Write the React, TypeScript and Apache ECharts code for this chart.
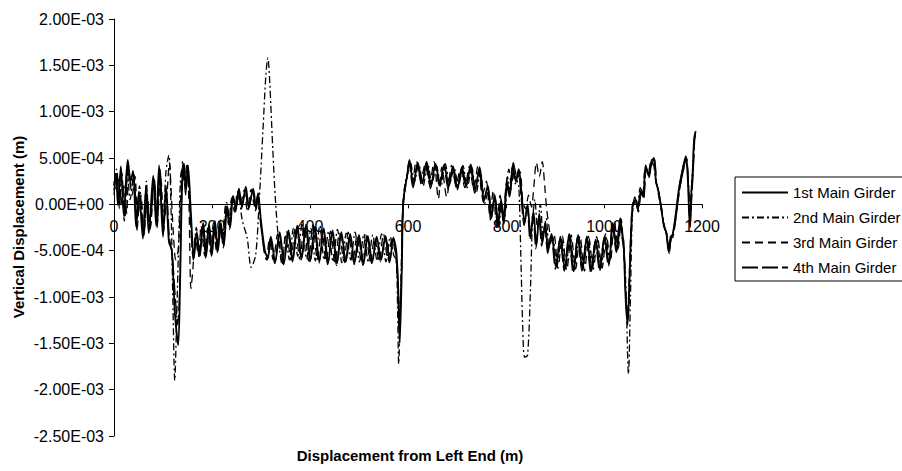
import React, { useEffect, useRef } from "react";
import * as echarts from "echarts";

// Values are in units of 1e-4 m; x is distance from left end in m.
const seriesNames = ["1st Main Girder", "2nd Main Girder", "3rd Main Girder", "4th Main Girder"];
const xTicks = [0, 200, 400, 600, 800, 1000, 1200];
const yMin = -25; // -2.50E-03 m
const yMax = 20; // 2.00E-03 m
const yTickStep = 5; // 5.00E-04 m

const girder1: number[][] = [
  [0,2.0],[4,3.1],[8,-0.1],[14,4.1],[20,-1.2],[28,4.8],[34,2.5],[39,3.6],[45,-2.4],[51,1.4],[59,-3.7],[65,1.7],[71,-3.1],[80,3.1],[86,-2.3],[92,4.2],[100,-3.5],[106,2.0],[112,-4.0],[118,-5.0],[124,-11.5],[131,-15.2],[135,-8.0],[139,2.0],[143,4.4],[147,1.5],[151,4.2],[157,-1.0],[163,-5.8],[169,-3.0],[175,-5.6],[182,-2.0],[188,-5.6],[194,-2.2],[200,-5.4],[206,-1.8],[212,-5.0],[218,-2.0],[224,-4.5],[231,-0.2],[237,-2.5],[243,0.9],[249,-0.4],[255,1.7],[261,-0.3],[269,1.9],[275,-0.4],[284,1.7],[290,-0.5],[294,1.2],[300,-1.8],[308,-5.0],[314,-5.8],[320,-3.5],[329,-6.2],[338,-3.0],[347,-6.3],[356,-2.8],[365,-6.0],[374,-2.3],[383,-5.8],[392,-2.2],[401,-6.0],[410,-2.4],[419,-6.2],[428,-2.6],[437,-6.3],[446,-2.8],[455,-6.4],[464,-3.0],[473,-6.2],[482,-3.2],[491,-6.3],[500,-3.3],[509,-6.4],[518,-3.4],[527,-6.2],[536,-3.5],[545,-6.0],[554,-3.4],[563,-6.1],[570,-3.6],[576,-5.0],[580,-9.0],[583,-15.0],[587,-8.0],[590,0.0],[594,1.8],[598,3.0],[603,4.8],[611,2.0],[620,4.5],[629,2.3],[638,4.6],[647,2.0],[656,4.4],[665,2.2],[674,4.3],[683,1.9],[692,4.1],[701,1.7],[710,4.0],[719,2.0],[728,4.3],[737,1.5],[746,4.0],[755,0.5],[763,2.0],[770,-1.5],[777,1.0],[784,-2.2],[790,0.5],[796,-2.0],[802,2.5],[808,1.0],[814,4.3],[820,2.5],[826,3.8],[832,1.0],[838,-2.0],[844,0.0],[850,-3.5],[856,-0.8],[862,-4.5],[868,-1.0],[874,-4.2],[880,-2.0],[886,-5.0],[893,-3.2],[902,-6.8],[911,-3.5],[920,-7.0],[929,-3.2],[938,-7.2],[947,-3.3],[956,-7.0],[965,-3.5],[974,-7.2],[983,-3.8],[992,-7.0],[1001,-3.5],[1010,-6.5],[1018,-2.0],[1026,-5.0],[1033,-1.5],[1038,-3.5],[1040,-4.0],[1044,-10.0],[1048,-13.0],[1052,-8.0],[1056,-2.0],[1059,0.0],[1065,0.5],[1069,-0.6],[1075,1.4],[1080,0.8],[1085,4.2],[1091,3.1],[1096,4.5],[1102,5.0],[1106,2.5],[1110,1.7],[1116,-0.1],[1122,-2.3],[1127,-3.0],[1132,-5.1],[1136,-3.5],[1140,-3.3],[1146,-1.2],[1153,1.7],[1161,3.9],[1167,5.2],[1171,2.8],[1175,-2.3],[1178,1.0],[1181,3.6],[1184,7.1],[1187,7.9]
];

const girder2: number[][] = [
  [0,1.0],[5,3.8],[10,0.5],[15,3.0],[21,-1.8],[27,4.0],[33,0.5],[40,3.0],[46,-2.0],[52,2.0],[60,-3.0],[66,2.5],[72,-2.5],[81,2.8],[87,-1.5],[93,3.5],[100,-2.5],[106,3.5],[112,5.3],[116,0.5],[120,-10.0],[124,-19.0],[128,-12.0],[132,-4.0],[136,3.0],[141,4.2],[146,2.0],[150,4.0],[156,-1.5],[162,-5.5],[168,-2.5],[174,-5.2],[181,-2.3],[187,-5.3],[193,-2.5],[199,-5.0],[205,-2.0],[211,-4.8],[217,-1.7],[223,-4.2],[230,0.2],[236,-2.0],[242,1.0],[248,-0.8],[254,1.5],[261,-1.5],[272,-3.7],[280,-6.8],[289,-5.5],[296,0.0],[304,8.0],[310,14.0],[314,15.8],[318,13.0],[324,6.0],[330,0.0],[337,-4.5],[343,-6.5],[350,-3.3],[358,-6.0],[366,-2.6],[375,-5.6],[384,-2.0],[393,-5.9],[402,-2.6],[411,-6.1],[420,-2.3],[429,-6.0],[438,-2.9],[447,-6.2],[456,-2.7],[465,-6.3],[474,-3.1],[483,-6.0],[492,-3.0],[501,-6.2],[510,-3.2],[519,-6.3],[528,-3.3],[537,-6.1],[546,-3.2],[555,-6.2],[564,-3.5],[571,-5.5],[576,-6.0],[579,-12.0],[581,-17.2],[584,-12.0],[588,-3.0],[591,1.0],[595,2.5],[600,3.5],[605,4.5],[613,2.4],[622,4.3],[631,2.0],[640,4.4],[649,2.3],[658,4.2],[667,1.9],[676,4.4],[685,2.2],[694,3.9],[703,2.0],[712,4.2],[721,1.8],[730,4.0],[739,1.2],[748,3.6],[756,0.0],[764,1.5],[771,-1.0],[778,0.5],[785,-2.5],[791,0.0],[797,-1.5],[803,3.0],[809,1.5],[815,4.5],[821,2.8],[826,2.0],[830,-5.0],[834,-13.0],[838,-16.5],[844,-16.3],[850,-9.0],[854,-2.0],[859,0.5],[864,-2.5],[870,0.0],[876,-3.5],[882,-1.5],[888,-4.5],[895,-3.5],[904,-6.6],[913,-3.7],[922,-6.8],[931,-3.4],[940,-7.0],[949,-3.6],[958,-6.8],[967,-3.3],[976,-7.0],[985,-3.5],[994,-6.8],[1003,-3.2],[1011,-6.0],[1019,-2.4],[1027,-4.6],[1034,-2.0],[1039,-4.0],[1044,-8.0],[1050,-18.3],[1054,-10.0],[1058,-1.0],[1063,0.8],[1068,-0.3],[1074,1.8],[1079,1.0],[1084,3.8],[1090,3.5],[1097,4.8],[1101,4.4],[1105,2.8],[1110,1.4],[1116,-0.4],[1122,-2.0],[1128,-3.4],[1132,-4.8],[1137,-3.8],[1141,-3.0],[1147,-1.0],[1154,2.0],[1162,4.2],[1167,4.9],[1171,3.0],[1175,-1.5],[1178,1.5],[1181,3.8],[1184,6.8],[1187,7.6]
];

const girder3: number[][] = [
  [0,2.5],[4,1.5],[9,3.0],[14,0.0],[20,2.0],[26,-1.0],[30,3.8],[37,1.0],[43,3.0],[48,-1.5],[55,1.0],[61,-3.2],[68,1.0],[74,-2.6],[82,2.5],[88,-2.0],[95,3.2],[102,-2.0],[108,1.0],[113,4.5],[117,1.0],[121,-3.0],[126,-6.0],[131,-5.0],[136,0.5],[140,4.6],[144,2.0],[149,4.5],[153,0.0],[157,-9.1],[161,-7.0],[166,-3.5],[172,-5.4],[178,-2.4],[185,-5.5],[191,-2.6],[197,-5.2],[203,-2.0],[209,-5.0],[215,-2.3],[221,-4.0],[228,0.0],[234,-2.2],[240,0.6],[246,-0.8],[252,1.4],[258,0.0],[265,1.5],[272,-0.6],[280,1.6],[287,-0.2],[293,0.8],[298,-1.2],[305,-4.5],[311,-6.0],[317,-3.8],[325,-6.0],[334,-3.2],[343,-6.2],[352,-2.9],[361,-6.0],[370,-2.5],[379,-5.9],[388,-2.4],[397,-6.1],[406,-2.2],[415,-6.0],[424,-2.7],[433,-6.2],[442,-2.9],[451,-6.3],[460,-3.1],[469,-6.1],[478,-3.0],[487,-6.2],[496,-3.4],[505,-6.3],[514,-3.3],[523,-6.1],[532,-3.6],[541,-6.2],[550,-3.2],[559,-6.0],[567,-3.8],[574,-5.2],[579,-8.0],[583,-12.0],[587,-7.0],[590,-0.5],[594,1.5],[599,3.2],[604,4.2],[609,2.5],[617,4.7],[626,2.6],[635,4.3],[644,2.2],[653,4.6],[662,0.6],[669,4.0],[679,0.8],[689,4.2],[698,2.1],[707,3.8],[716,1.8],[725,4.1],[734,1.7],[743,4.2],[752,1.0],[760,2.5],[767,-1.2],[774,1.5],[781,-2.6],[788,1.0],[794,-1.8],[800,2.0],[806,3.8],[811,2.0],[817,4.0],[823,2.8],[829,3.5],[834,0.5],[840,-0.5],[846,1.0],[852,-0.3],[857,2.0],[862,4.5],[868,3.0],[874,4.6],[879,2.0],[883,-0.5],[888,-2.5],[892,-4.0],[898,-3.3],[906,-6.9],[915,-3.4],[924,-7.1],[933,-3.3],[942,-7.0],[951,-3.4],[960,-7.2],[969,-3.6],[978,-7.0],[987,-3.7],[996,-6.9],[1005,-3.4],[1013,-6.2],[1021,-1.8],[1029,-4.8],[1035,-1.6],[1040,-5.0],[1044,-9.0],[1048,-12.0],[1052,-7.0],[1056,-1.5],[1060,0.3],[1066,0.0],[1070,-0.8],[1076,1.6],[1081,1.0],[1086,4.0],[1092,3.3],[1097,4.2],[1103,4.8],[1107,2.2],[1111,1.5],[1117,-0.3],[1123,-2.5],[1128,-3.2],[1133,-5.3],[1137,-3.6],[1141,-3.1],[1147,-1.4],[1154,1.5],[1162,3.7],[1168,5.0],[1172,2.5],[1176,-2.0],[1179,1.2],[1182,3.9],[1185,7.3],[1187,7.7]
];

const girder4: number[][] = [
  [0,1.5],[6,3.5],[11,-0.5],[16,3.4],[22,-1.5],[29,4.4],[35,1.8],[41,3.2],[47,-2.8],[53,1.0],[61,-3.4],[67,1.4],[73,-2.8],[82,2.8],[88,-2.5],[94,3.8],[101,-3.0],[107,1.5],[113,-3.5],[119,-5.5],[125,-10.0],[130,-13.0],[134,-9.0],[138,1.0],[142,4.0],[146,1.0],[150,3.8],[156,-1.5],[162,-6.0],[168,-3.3],[174,-5.8],[181,-2.2],[187,-5.8],[193,-2.4],[199,-5.6],[205,-2.0],[211,-5.2],[217,-2.2],[223,-4.7],[230,-0.5],[236,-2.7],[242,0.6],[248,-0.6],[254,1.5],[260,-0.5],[268,1.6],[274,-0.6],[283,1.4],[289,-0.7],[293,1.0],[299,-2.0],[307,-5.2],[313,-6.0],[319,-3.7],[328,-6.4],[337,-3.2],[346,-6.5],[355,-3.0],[364,-6.2],[373,-2.5],[382,-6.0],[391,-2.4],[400,-6.2],[409,-2.6],[418,-6.4],[427,-2.8],[436,-6.5],[445,-3.0],[454,-6.6],[463,-3.2],[472,-6.4],[481,-3.4],[490,-6.5],[499,-3.5],[508,-6.6],[517,-3.6],[526,-6.4],[535,-3.7],[544,-6.2],[553,-3.6],[562,-6.3],[569,-3.8],[575,-5.2],[579,-8.5],[582,-13.5],[586,-8.5],[589,-0.5],[593,1.5],[597,2.8],[602,4.5],[610,1.8],[619,4.3],[628,2.0],[637,4.4],[646,1.7],[655,4.2],[664,2.0],[673,4.1],[682,1.6],[691,3.9],[700,1.5],[709,3.8],[718,1.8],[727,4.1],[736,1.2],[745,3.8],[754,0.2],[762,1.8],[769,-1.8],[776,0.8],[783,-2.5],[789,0.2],[795,-2.2],[801,2.2],[807,0.8],[813,4.0],[819,2.2],[825,3.5],[831,0.7],[837,-2.3],[843,-0.3],[849,-3.8],[855,-1.0],[861,-4.8],[867,-1.3],[873,-4.5],[879,-2.3],[885,-5.3],[892,-3.5],[901,-7.0],[910,-3.7],[919,-7.2],[928,-3.4],[937,-7.4],[946,-3.5],[955,-7.2],[964,-3.7],[973,-7.4],[982,-4.0],[991,-7.2],[1000,-3.7],[1009,-6.7],[1017,-2.2],[1025,-5.2],[1032,-1.7],[1037,-3.7],[1041,-5.0],[1045,-10.5],[1049,-12.5],[1053,-6.5],[1057,-1.5],[1060,-0.2],[1066,0.3],[1070,-0.8],[1076,1.2],[1081,0.6],[1086,4.0],[1092,2.9],[1097,4.3],[1103,4.8],[1107,2.3],[1111,1.5],[1117,-0.3],[1123,-2.5],[1128,-3.2],[1133,-5.3],[1137,-3.7],[1141,-3.5],[1147,-1.4],[1154,1.5],[1162,3.7],[1168,5.0],[1172,2.6],[1176,-2.5],[1179,0.8],[1182,3.4],[1185,6.9],[1187,7.7]
];

const FONT = "'Liberation Sans', Arial, Helvetica, sans-serif";

function formatE(v: number): string {
  const s = (v * 1e-4).toExponential(2);
  const [m, e] = s.split("e");
  const sign = e[0] === "-" ? "-" : "+";
  const digits = e.replace(/[+-]/, "").padStart(2, "0");
  return `${m}E${sign}${digits}`;
}

const GRID_TOP = 19;
const GRID_HEIGHT = 417;
// Distance (px) from the grid's bottom edge up to the y = 0 line.
const ZERO_OFFSET = (GRID_HEIGHT * (0 - yMin)) / (yMax - yMin);

export default function App() {
  const ref = useRef<HTMLDivElement>(null);
  useEffect(() => {
    if (!ref.current) return;
    const chart = echarts.init(ref.current, undefined, { renderer: "svg" });
    const dashTypes: any[] = ["solid", [7, 3, 2, 3], [8, 5], [16, 4]];
    const widths = [1.8, 1.3, 1.3, 1.3];
    const datasets = [girder1, girder2, girder3, girder4];
    chart.setOption({
      animation: false,
      backgroundColor: "#ffffff",
      grid: { left: 114, top: GRID_TOP, width: 588, height: GRID_HEIGHT, containLabel: false },
      xAxis: {
        type: "value",
        position: "bottom",
        offset: -ZERO_OFFSET,
        min: xTicks[0],
        max: xTicks[xTicks.length - 1],
        interval: 200,
        axisLine: { onZero: false, lineStyle: { color: "#000", width: 1 } },
        axisTick: { show: true, length: 4, lineStyle: { color: "#000" } },
        axisLabel: {
          color: "#000",
          fontSize: 16,
          fontFamily: FONT,
          margin: 14,
          formatter: (v: number) => String(v),
        },
        splitLine: { show: false },
        z: 10,
      },
      yAxis: {
        type: "value",
        min: yMin,
        max: yMax,
        interval: yTickStep,
        axisLine: { show: true, onZero: false, lineStyle: { color: "#000", width: 1 } },
        axisTick: { show: true, length: 5, lineStyle: { color: "#000" } },
        axisLabel: { color: "#000", fontSize: 16, fontFamily: FONT, margin: 10, formatter: formatE },
        splitLine: { show: false },
      },
      legend: {
        orient: "vertical",
        left: 735,
        top: 177,
        itemWidth: 46,
        itemHeight: 14,
        itemGap: 10,
        padding: [8, 12, 6, 6],
        borderColor: "#000",
        borderWidth: 1,
        backgroundColor: "#fff",
        itemStyle: { opacity: 0 },
        textStyle: { color: "#000", fontSize: 15, fontFamily: FONT },
        data: seriesNames,
      },
      graphic: [
        {
          type: "text",
          x: 18,
          y: 227,
          rotation: Math.PI / 2,
          style: {
            text: "Vertical Displacement (m)",
            font: `bold 15px ${FONT}`,
            fill: "#000",
            textAlign: "center",
            textVerticalAlign: "middle",
          },
        },
        {
          type: "text",
          x: 410,
          y: 455,
          style: {
            text: "Displacement from Left End (m)",
            font: `bold 15px ${FONT}`,
            fill: "#000",
            textAlign: "center",
            textVerticalAlign: "middle",
          },
        },
      ],
      series: seriesNames.map((name, i) => ({
        name,
        type: "line",
        data: datasets[i],
        showSymbol: false,
        symbol: "none",
        smooth: 0.3,
        lineStyle: { color: "#000", width: widths[i], type: dashTypes[i] },
        itemStyle: { color: "#000" },
        z: 4 - i,
      })),
    });
    return () => chart.dispose();
  }, []);
  return (
    <div
      ref={ref}
      style={{ position: "absolute", left: 0, top: 0, width: 902, height: 471, background: "#fff" }}
    />
  );
}
